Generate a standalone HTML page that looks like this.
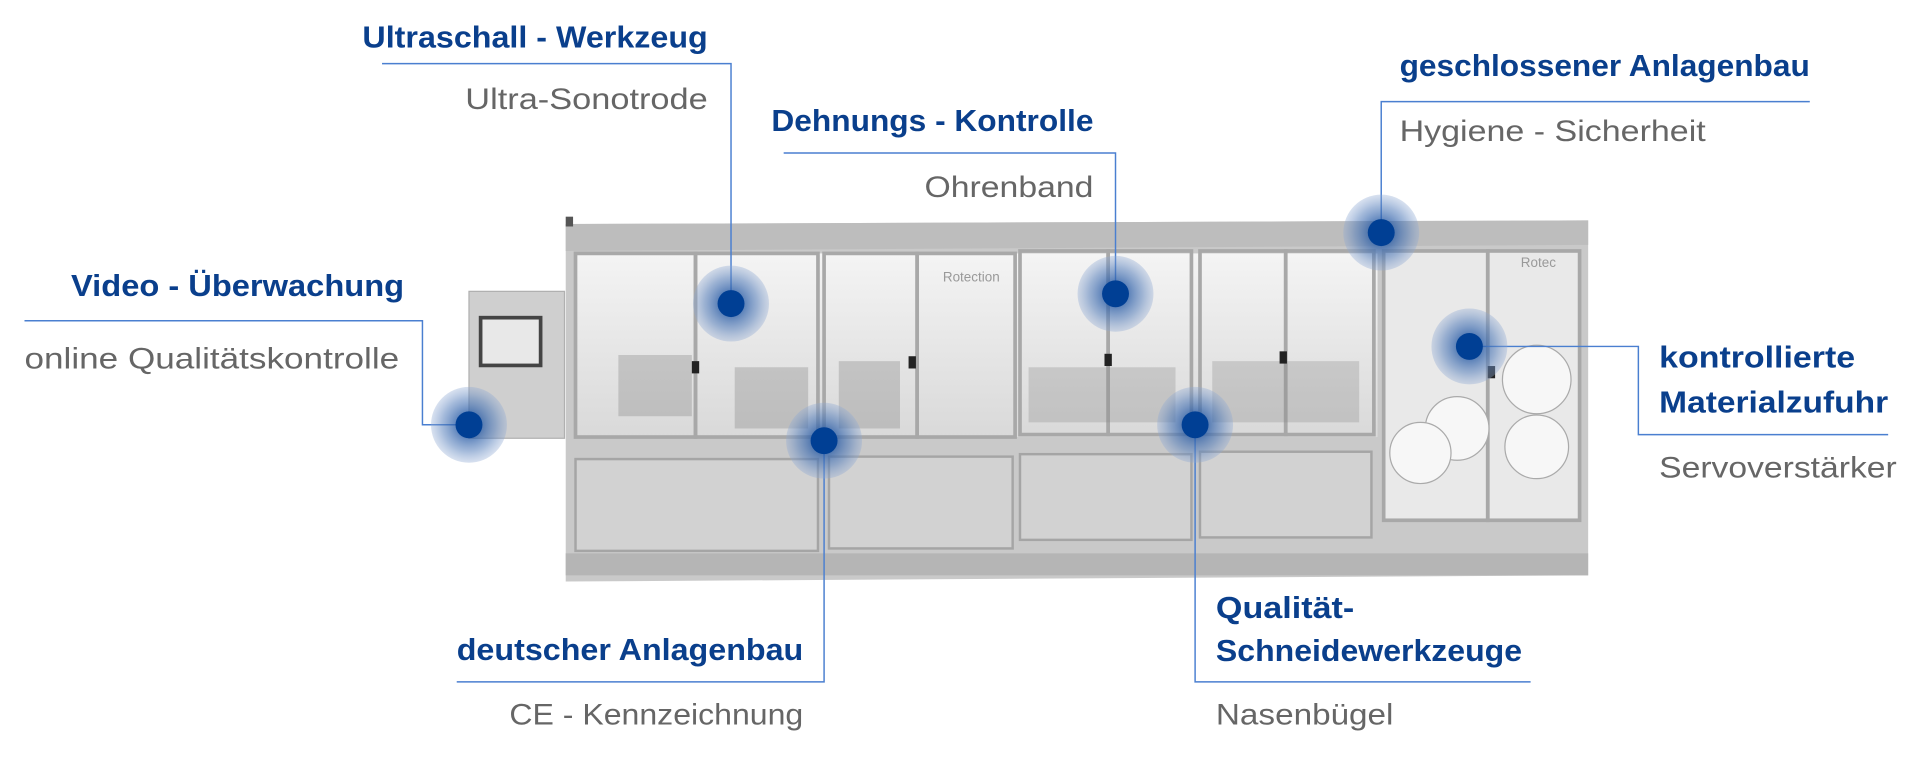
<!DOCTYPE html>
<html><head><meta charset="utf-8"><style>
html,body{margin:0;padding:0;background:#fff;width:1920px;height:759px;overflow:hidden}
svg{display:block}
.t{font-family:"Liberation Sans",sans-serif;font-weight:bold;fill:#0a3f8c;font-size:25px}
.s{font-family:"Liberation Sans",sans-serif;fill:#666;font-size:24px}
.l{stroke:#4a7fd0;stroke-width:1.2;fill:none}
</style></head><body>
<svg width="1920" height="759" viewBox="0 0 1568 620" preserveAspectRatio="none">
<defs>
<linearGradient id="g1" x1="0" y1="0" x2="0" y2="1"><stop offset="0" stop-color="#f4f4f4"/><stop offset="1" stop-color="#d9d9d9"/></linearGradient>
<radialGradient id="halo"><stop offset="0.35" stop-color="#2d5fa8" stop-opacity="0.75"/><stop offset="0.7" stop-color="#5a82bd" stop-opacity="0.55"/><stop offset="1" stop-color="#8fa9d3" stop-opacity="0.35"/></radialGradient>
</defs>
<!-- machine -->
<polygon points="462,183 1297,180 1297,470 462,475" fill="#c9c9c9"/>
<polygon points="462,183 1297,180 1297,200 462,205" fill="#bdbdbd"/>
<rect x="470" y="207" width="655" height="150" fill="url(#g1)"/>
<rect x="1130" y="205" width="160" height="220" fill="#e9e9e9"/>
<g stroke="#a8a8a8" stroke-width="3" fill="none">
<rect x="470" y="207" width="98" height="150"/><rect x="568" y="207" width="100" height="150"/>
<rect x="673" y="207" width="76" height="150"/><rect x="749" y="207" width="80" height="150"/>
<rect x="833" y="205" width="72" height="150"/><rect x="905" y="205" width="68" height="150"/>
<rect x="980" y="205" width="70" height="150"/><rect x="1050" y="205" width="72" height="150"/>
<rect x="1130" y="205" width="85" height="220"/><rect x="1215" y="205" width="75" height="220"/>
</g>
<g fill="#d2d2d2" stroke="#a5a5a5" stroke-width="2">
<rect x="470" y="375" width="198" height="75"/><rect x="677" y="373" width="150" height="75"/>
<rect x="833" y="371" width="140" height="70"/><rect x="980" y="369" width="140" height="70"/>
</g>
<rect x="462" y="452" width="835" height="18" fill="#b5b5b5"/>
<g fill="#888"><rect x="505" y="290" width="60" height="50" opacity="0.35"/><rect x="600" y="300" width="60" height="50" opacity="0.35"/><rect x="685" y="295" width="50" height="55" opacity="0.35"/><rect x="840" y="300" width="120" height="45" opacity="0.3"/><rect x="990" y="295" width="120" height="50" opacity="0.3"/></g>
<g fill="#f7f7f7" stroke="#aaa"><circle cx="1255" cy="310" r="28"/><circle cx="1190" cy="350" r="26"/><circle cx="1255" cy="365" r="26"/><circle cx="1160" cy="370" r="25"/></g>
<g fill="#222"><rect x="565" y="295" width="6" height="10"/><rect x="742" y="291" width="6" height="10"/><rect x="902" y="289" width="6" height="10"/><rect x="1045" y="287" width="6" height="10"/><rect x="1215" y="299" width="6" height="10"/></g>
<text x="770" y="230" font-family="Liberation Sans" font-size="11" fill="#999">Rotection</text>
<text x="1242" y="218" font-family="Liberation Sans" font-size="11" fill="#999">Rotec</text>
<!-- control panel -->
<rect x="383" y="238" width="78" height="120" fill="#cfcfcf" stroke="#b0b0b0"/>
<rect x="391" y="258" width="52" height="42" fill="#444"/><rect x="394" y="261" width="46" height="36" fill="#e8e8e8"/>
<rect x="462" y="177" width="6" height="8" fill="#555"/>
<!-- lines -->
<path class="l" d="M312 52 H597 V248"/>
<path class="l" d="M640 125 H911 V240"/>
<path class="l" d="M1128 190 V83 H1478"/>
<path class="l" d="M20 262 H345 V347 H383"/>
<path class="l" d="M1200 283 H1338 V355 H1542"/>
<path class="l" d="M373 557 H673 V360"/>
<path class="l" d="M1250 557 H976 V347"/>
<!-- dots -->
<g>
<circle cx="597" cy="248" r="31" fill="url(#halo)"/><circle cx="597" cy="248" r="11" fill="#003f94"/>
<circle cx="911" cy="240" r="31" fill="url(#halo)"/><circle cx="911" cy="240" r="11" fill="#003f94"/>
<circle cx="1128" cy="190" r="31" fill="url(#halo)"/><circle cx="1128" cy="190" r="11" fill="#003f94"/>
<circle cx="383" cy="347" r="31" fill="url(#halo)"/><circle cx="383" cy="347" r="11" fill="#003f94"/>
<circle cx="1200" cy="283" r="31" fill="url(#halo)"/><circle cx="1200" cy="283" r="11" fill="#003f94"/>
<circle cx="673" cy="360" r="31" fill="url(#halo)"/><circle cx="673" cy="360" r="11" fill="#003f94"/>
<circle cx="976" cy="347" r="31" fill="url(#halo)"/><circle cx="976" cy="347" r="11" fill="#003f94"/>
</g>
<!-- labels -->
<text class="t" x="296" y="39" textLength="282" lengthAdjust="spacingAndGlyphs">Ultraschall - Werkzeug</text>
<text class="s" x="380" y="89" textLength="198" lengthAdjust="spacingAndGlyphs">Ultra-Sonotrode</text>
<text class="t" x="630" y="107" textLength="263" lengthAdjust="spacingAndGlyphs">Dehnungs - Kontrolle</text>
<text class="s" x="755" y="161" textLength="138" lengthAdjust="spacingAndGlyphs">Ohrenband</text>
<text class="t" x="1143" y="62" textLength="335" lengthAdjust="spacingAndGlyphs">geschlossener Anlagenbau</text>
<text class="s" x="1143" y="115" textLength="250" lengthAdjust="spacingAndGlyphs">Hygiene - Sicherheit</text>
<text class="t" x="58" y="242" textLength="272" lengthAdjust="spacingAndGlyphs">Video - Überwachung</text>
<text class="s" x="20" y="301" textLength="306" lengthAdjust="spacingAndGlyphs">online Qualitätskontrolle</text>
<text class="t" x="1355" y="300" textLength="160" lengthAdjust="spacingAndGlyphs">kontrollierte</text>
<text class="t" x="1355" y="337" textLength="187" lengthAdjust="spacingAndGlyphs">Materialzufuhr</text>
<text class="s" x="1355" y="390" textLength="194" lengthAdjust="spacingAndGlyphs">Servoverstärker</text>
<text class="t" x="373" y="539" textLength="283" lengthAdjust="spacingAndGlyphs">deutscher Anlagenbau</text>
<text class="s" x="416" y="592" textLength="240" lengthAdjust="spacingAndGlyphs">CE - Kennzeichnung</text>
<text class="t" x="993" y="505" textLength="113" lengthAdjust="spacingAndGlyphs">Qualität-</text>
<text class="t" x="993" y="540" textLength="250" lengthAdjust="spacingAndGlyphs">Schneidewerkzeuge</text>
<text class="s" x="993" y="592" textLength="145" lengthAdjust="spacingAndGlyphs">Nasenbügel</text>
</svg>
</body></html>
